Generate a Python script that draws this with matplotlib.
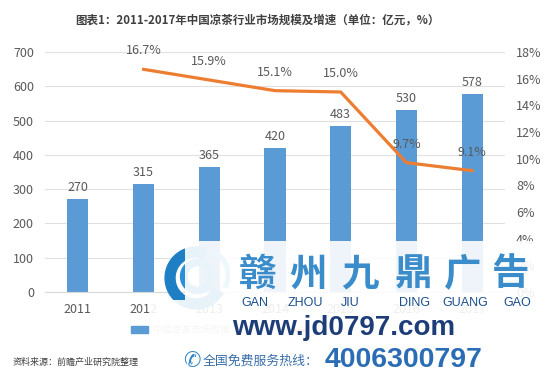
import matplotlib
matplotlib.use('Agg')
import matplotlib.pyplot as plt
from matplotlib.patches import Rectangle, Wedge, Patch
from matplotlib.lines import Line2D
import numpy as np

plt.rcParams['font.family'] = ['Noto Sans CJK SC', 'DejaVu Sans']

# 数据
years = ['2011', '2012', '2013', '2014', '2015', '2016', '2017']
market_size = [270, 315, 365, 420, 483, 530, 578]
growth = [16.7, 15.9, 15.1, 15.0, 9.7, 9.1]   # 2012-2017
growth_years = years[1:]

W, H = 555, 388
fig = plt.figure(figsize=(W / 100, H / 100), dpi=100)


def fx(x):
    return x / W


def fy(y):
    return 1 - y / H


ax = fig.add_axes([fx(45), fy(292), fx(505) - fx(45), fy(52) - fy(292)])
x = np.arange(len(years))
bar_color = '#5b9bd5'
line_color = '#ed7d31'
text_gray = '#595959'

ax.bar(x, market_size, width=0.32, color=bar_color, zorder=2)
for xi, v in zip(x, market_size):
    ax.text(xi, v + 15, str(v), ha='center', va='bottom', fontsize=9, color=text_gray)

ax.set_ylim(0, 700)
ax.set_yticks(range(0, 701, 100))
ax.set_xlim(-0.5, len(years) - 0.5)
ax.set_xticks(x)
ax.set_xticklabels(years)
ax.tick_params(axis='both', length=0, labelsize=9, colors=text_gray, pad=8)
ax.yaxis.grid(True, color='#e0e0e0', linewidth=0.8, zorder=0)
ax.set_axisbelow(True)
for s in ['top', 'left', 'right']:
    ax.spines[s].set_visible(False)
ax.spines['bottom'].set_color('#d9d9d9')

ax2 = ax.twinx()
gx = [years.index(y) for y in growth_years]
ax2.plot(gx, growth, color=line_color, linewidth=2.3, zorder=3)
for xi, v in zip(gx, growth):
    ax2.text(xi, v + 0.9, f'{v:.1f}%', ha='center', va='bottom', fontsize=9, color=text_gray)
ax2.set_ylim(0, 18)
ax2.set_yticks(range(0, 19, 2))
ax2.set_yticklabels([f'{t}%' for t in range(0, 19, 2)])
ax2.tick_params(axis='y', length=0, labelsize=9, colors=text_gray, pad=8)
for s in ['top', 'left', 'right', 'bottom']:
    ax2.spines[s].set_visible(False)

# 图例（被广告水印半遮挡）
handles = [Patch(color=bar_color), Line2D([0], [0], color=line_color, linewidth=2.3)]
leg = fig.legend(handles, ['中国凉茶市场规模（亿元）', '增速（%）'], loc='center left',
                 bbox_to_anchor=(fx(122), fy(330)), ncol=2, frameon=False, fontsize=7,
                 labelcolor='#a0a0a0', handlelength=1.8, handletextpad=0.4)
leg.set_zorder(3)

# 标题
fig.text(fx(257), fy(20), '图表1：2011-2017年中国凉茶行业市场规模及增速（单位：亿元，%）',
         ha='center', va='center', fontsize=8.3, fontweight='bold', color='#404040')

# 资料来源
fig.text(fx(13), fy(362), '资料来源：前瞻产业研究院整理', ha='left', va='center',
         fontsize=6.5, color='#404040', style='italic')

# 广告水印
fig.patches.append(Rectangle((fx(185), 0), 1 - fx(185), fy(241), transform=fig.transFigure,
                             facecolor='white', alpha=0.9, zorder=5))
fig.patches.append(Rectangle((fx(150), 0), fx(185) - fx(150), fy(300), transform=fig.transFigure,
                             facecolor='white', alpha=0.9, zorder=5))

logo = fig.add_axes([fx(160), fy(312), fx(232) - fx(160), fy(244) - fy(312)])
logo.set_xlim(-1.1, 1.1)
logo.set_ylim(-1.1, 1.1)
logo.set_aspect('equal')
logo.axis('off')
logo.add_patch(Wedge((0, 0), 1.0, 70, 330, width=0.32, color='#1f7fc4'))
logo.add_patch(Wedge((0.05, 0.05), 0.55, 0, 360, width=0.2, color='#2a8fd6'))
logo.add_patch(Wedge((0.25, 0.1), 0.85, 330, 60, width=0.12, color='#5fb3e8'))

brand_chars = ['赣', '州', '九', '鼎', '广', '告']
brand_x = [258, 308, 360, 413, 463, 510]
for c, bx in zip(brand_chars, brand_x):
    fig.text(fx(bx), fy(274), c, ha='center', va='center', fontsize=27,
             fontweight='bold', color='#3a8ccb', zorder=6)

pinyin = ['GAN', 'ZHOU', 'JIU', 'DING', 'GUANG', 'GAO']
pinyin_x = [255, 305, 350, 415, 465, 517]
for p, px_ in zip(pinyin, pinyin_x):
    fig.text(fx(px_), fy(303), p, ha='center', va='center', fontsize=9,
             color='#1b4f8c', family='Liberation Sans', zorder=6)

fig.text(fx(344), fy(328), 'www.jd0797.com', ha='center', va='center', fontsize=20,
         fontweight='bold', color='#1d3d78', family='Liberation Sans', zorder=6)

fig.text(fx(192), fy(361), '✆', ha='center', va='center', fontsize=15,
         color='#2f86c8', family='DejaVu Sans', zorder=6)
fig.text(fx(203), fy(361), '全国免费服务热线：', ha='left', va='center', fontsize=9.3,
         color='#3a6ea8', zorder=6)
fig.text(fx(325), fy(360), '4006300797', ha='left', va='center', fontsize=20.5,
         fontweight='bold', color='#2b6db4', family='Liberation Sans', zorder=6)

fig.savefig('out.png', dpi=100)
